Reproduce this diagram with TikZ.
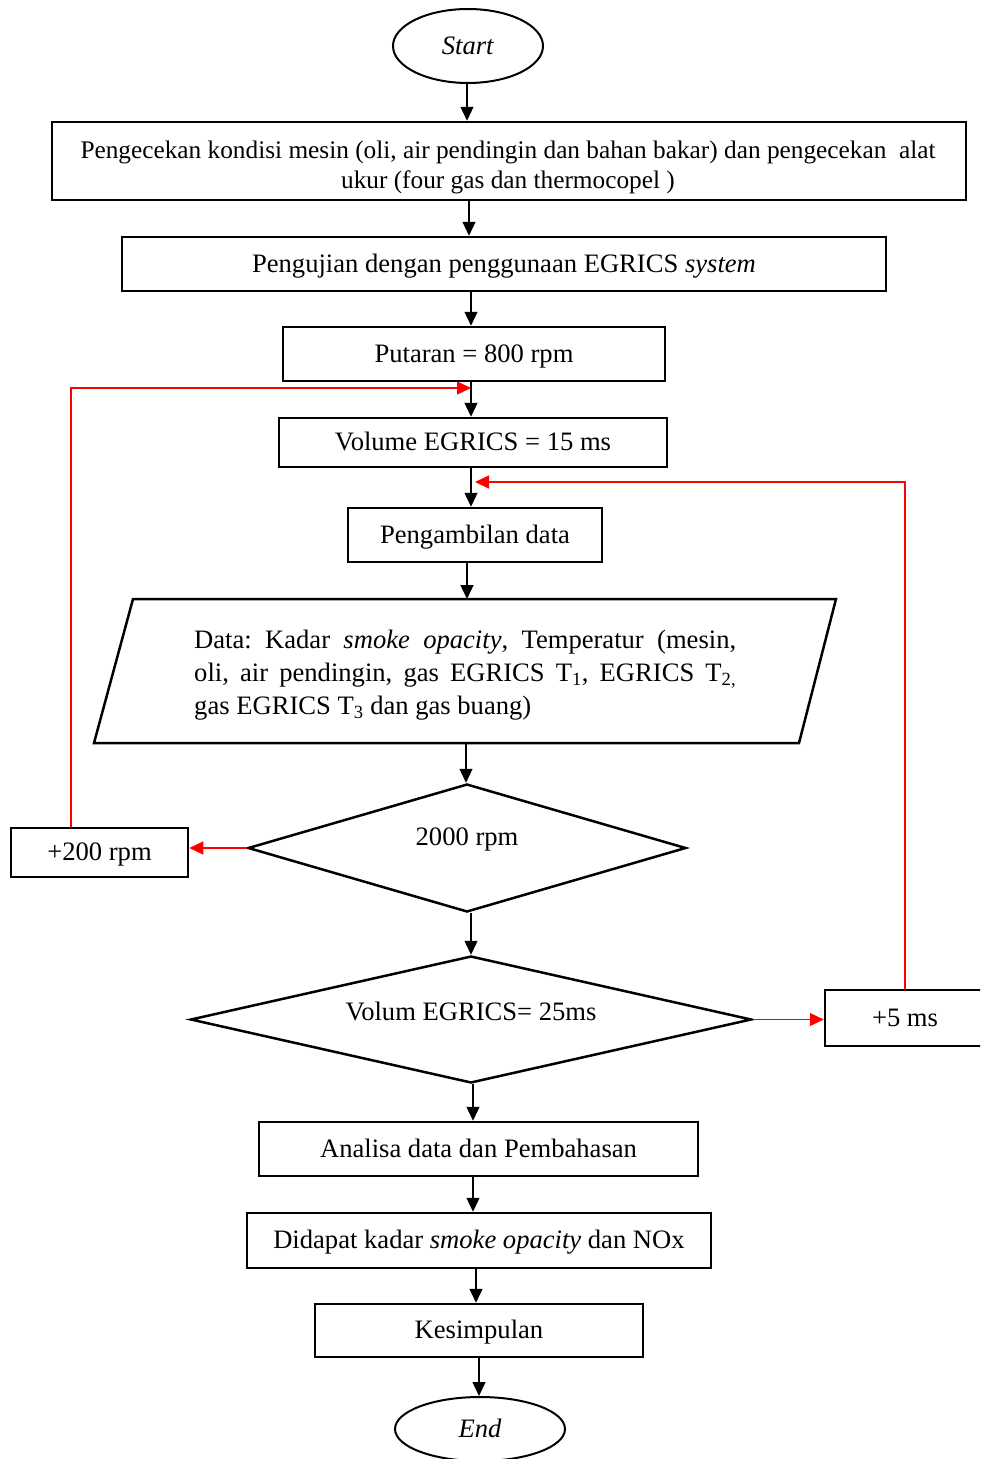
\documentclass[tikz,border=0pt]{standalone}
\usepackage{fontspec}
\setmainfont{Liberation Serif}
\usetikzlibrary{shapes.geometric,arrows.meta}
\newcommand\myfs{\fontsize{26.6pt}{33pt}\selectfont}
\frenchspacing
\begin{document}
\begin{tikzpicture}[x=1pt,y=-1pt,
  every node/.style={font=\myfs},
  boxn/.style={draw,line width=2.5pt,inner sep=0pt,rectangle,text height=21pt,text depth=5pt},
  ell/.style={draw,line width=2pt,ellipse,inner sep=0pt,text height=21pt,text depth=5pt},
  dia/.style={draw,line width=2.5pt,diamond,inner sep=0pt},
  txt/.style={inner sep=0pt},
  arr/.style={-{Triangle[length=14pt,width=13pt]},line width=1.3pt,black},
  rarr/.style={-{Triangle[length=14pt,width=13pt]},line width=1.3pt,red}]
\useasboundingbox (0,0) rectangle (980,1459);
\clip (0,0) rectangle (980,1459);
% nodes
\node[ell,minimum width=150pt,minimum height=74pt] (start) at (468,46) {\textit{Start}};
\node[boxn,minimum width=914pt,minimum height=78pt] (box1) at (509,161) {};
\node[txt,align=center,font=\fontsize{25.3pt}{30pt}\selectfont] (t1) at (508,167) {Pengecekan kondisi mesin (oli, air pendingin dan bahan bakar) dan pengecekan\ \ alat\\ukur (four gas dan thermocopel )};
\node[boxn,minimum width=764pt,minimum height=54pt] (box2) at (504,264) {Pengujian dengan penggunaan EGRICS \textit{system}};
\node[boxn,minimum width=382pt,minimum height=54pt] (box3) at (474,354) {Putaran = 800 rpm};
\node[boxn,minimum width=388pt,minimum height=49pt] (box4) at (473,442.5) {Volume EGRICS = 15 ms};
\node[boxn,minimum width=254pt,minimum height=54pt] (box5) at (475,535) {Pengambilan data};
% parallelogram
\coordinate (p1) at (133,599);
\coordinate (p2) at (836,599);
\coordinate (p3) at (799,743);
\coordinate (p4) at (94,743);
\draw[line width=2.5pt,line join=miter] (p1) -- (p2) -- (p3) -- (p4) -- cycle;
\node[txt,anchor=west,align=left] (pdata) at (194,675.5) {%
\makebox[542pt][s]{Data: Kadar \textit{smoke opacity}, Temperatur (mesin,}\\
\makebox[542pt][s]{oli, air pendingin, gas EGRICS T\textsubscript{1}, EGRICS T\textsubscript{2,}}\\
\makebox[542pt][l]{gas EGRICS T\textsubscript{3} dan gas buang)}};
\node[dia,minimum width=438pt,minimum height=128pt] (d1) at (467,848) {};
\node[txt] (d1t) at (467,839) {2000 rpm};
\node[boxn,minimum width=177pt,minimum height=49pt] (plus200) at (99.5,852.5) {+200 rpm};
\node[dia,minimum width=561pt,minimum height=127pt] (d2) at (471,1019.5) {};
\node[txt] (d2t) at (471,1011) {Volum EGRICS= 25ms};
\node[boxn,minimum width=160pt,minimum height=56pt] (plus5) at (905,1018) {+5 ms};
\node[boxn,minimum width=439pt,minimum height=54pt] (box6) at (478.5,1149) {Analisa data dan Pembahasan};
\node[boxn,minimum width=464pt,minimum height=55pt] (box7) at (479,1240.5) {Didapat kadar \textit{smoke opacity} dan NOx};
\node[boxn,minimum width=328pt,minimum height=53pt] (box8) at (479,1330.5) {Kesimpulan};
\node[ell,minimum width=170pt,minimum height=64pt] (endn) at (480,1429) {\textit{End}};
% arrow x positions
\coordinate (x1) at (467,0);
\coordinate (x2) at (469,0);
\coordinate (x3) at (471,0);
\coordinate (x5) at (467,0);
\coordinate (x6) at (466,0);
\coordinate (x8) at (473,0);
\coordinate (x9) at (476,0);
\coordinate (x10) at (479,0);
\coordinate (ptop) at (467,599);
\coordinate (pbot) at (466,743);
% black connectors
\draw[arr] (start.south -| x1) -- (box1.north -| x1);
\draw[arr] (box1.south -| x2) -- (box2.north -| x2);
\draw[arr] (box2.south -| x3) -- (box3.north -| x3);
\draw[arr] (box3.south -| x3) -- (box4.north -| x3);
\draw[arr] (box4.south -| x3) -- (box5.north -| x3);
\draw[arr] (box5.south -| x5) -- (ptop);
\draw[arr] (pbot) -- (d1.north -| x6);
\draw[arr] (d1.south -| x3) -- (d2.north -| x3);
\draw[arr] (d2.south -| x8) -- (box6.north -| x8);
\draw[arr] (box6.south -| x8) -- (box7.north -| x8);
\draw[arr] (box7.south -| x9) -- (box8.north -| x9);
\draw[arr] (box8.south -| x10) -- (endn.north -| x10);
% red loops
\coordinate (rl) at (71,0);
\coordinate (rt1) at (471,388);
\coordinate (rt2) at (475,482);
\draw[rarr] (d1.west) -- (d1.west -| plus200.east);
\draw[rarr] (plus200.north -| rl) |- (rt1);
\draw[rarr] (d2.east) -- (d2.east -| plus5.west);
\draw[rarr] (plus5.north) |- (rt2);
\end{tikzpicture}
\end{document}
